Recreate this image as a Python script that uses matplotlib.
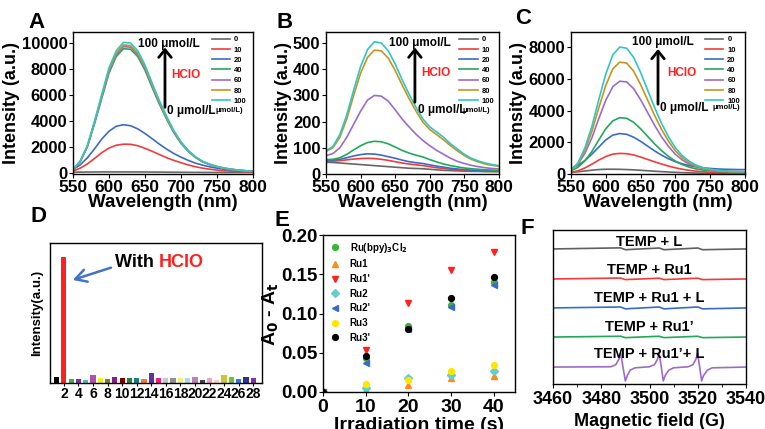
import matplotlib
matplotlib.use("Agg")
import matplotlib.pyplot as plt
import matplotlib.transforms as mtransforms

plt.rcParams['font.family'] = ['Liberation Sans', 'DejaVu Sans']
plt.rcParams['font.weight'] = 'bold'
plt.rcParams['axes.labelweight'] = 'bold'
plt.rcParams['mathtext.default'] = 'bf'
plt.rcParams['axes.linewidth'] = 1.0
plt.rcParams['xtick.direction'] = 'out'
plt.rcParams['ytick.direction'] = 'out'

# ---------------- data ----------------
wavelength = list(range(550, 801, 10))
conc_labels = ['0', '10', '20', '40', '60', '80', '100']
conc_colors = ['#666666', '#f23c3c', '#3a6cc5', '#22a85a', '#9c6cc8', '#c8941e', '#2fc6c6']

A_0 = [40, 45, 50, 55, 60, 60, 60, 60, 58, 55, 52, 48, 45, 40, 36, 32, 28, 25, 22, 20, 18, 16, 15, 14, 13, 12]
A_10 = [130, 350, 680, 1100, 1550, 1900, 2120, 2200, 2190, 2080, 1880, 1650, 1400, 1160, 950, 770, 600, 460, 350, 270, 200, 150, 120, 90, 70, 60]
A_20 = [250, 600, 1150, 1850, 2600, 3200, 3580, 3700, 3620, 3380, 3020, 2620, 2200, 1820, 1480, 1200, 950, 740, 580, 450, 350, 270, 210, 160, 130, 100]
A_40 = [230, 850, 2000, 3800, 5750, 7680, 8950, 9560, 9520, 8950, 7900, 6560, 5280, 4130, 3090, 2260, 1640, 1170, 840, 620, 460, 340, 250, 190, 140, 110]
A_60 = [235, 865, 2030, 3870, 5850, 7800, 9100, 9720, 9680, 9100, 8030, 6670, 5370, 4200, 3140, 2300, 1670, 1190, 850, 630, 465, 345, 255, 195, 145, 115]
A_80 = [240, 880, 2060, 3930, 5940, 7930, 9220, 9860, 9800, 9220, 8140, 6760, 5440, 4260, 3180, 2330, 1690, 1200, 860, 640, 470, 350, 260, 200, 150, 120]
A_100 = [250, 900, 2100, 4000, 6050, 8080, 9400, 10050, 10000, 9400, 8300, 6900, 5550, 4350, 3250, 2380, 1720, 1230, 880, 650, 480, 360, 270, 200, 150, 120]

B_0 = [45, 44, 42, 40, 38, 36, 34, 32, 30, 28, 26, 24, 22, 21, 20, 18, 16, 14, 13, 12, 11, 10, 10, 9, 9, 9]
B_10 = [48, 49, 51, 54, 57, 59, 60, 59, 56, 52, 47, 42, 38, 35, 32, 28, 24, 21, 18, 16, 14, 13, 12, 11, 10, 10]
B_20 = [52, 53, 56, 62, 69, 74, 77, 76, 72, 66, 60, 53, 47, 43, 40, 35, 30, 26, 22, 19, 17, 15, 14, 13, 12, 12]
B_40 = [55, 56, 62, 75, 92, 108, 120, 125, 123, 115, 103, 90, 80, 72, 65, 55, 46, 38, 32, 27, 23, 20, 18, 16, 15, 14]
B_60 = [70, 78, 100, 140, 190, 240, 282, 300, 297, 278, 245, 210, 180, 152, 128, 108, 90, 75, 60, 48, 40, 33, 28, 24, 21, 19]
B_80 = [86, 100, 140, 210, 300, 385, 445, 473, 470, 442, 395, 340, 288, 240, 198, 170, 150, 130, 108, 88, 70, 56, 46, 38, 33, 29]
B_100 = [88, 105, 150, 225, 320, 410, 475, 505, 500, 470, 420, 360, 305, 255, 210, 180, 160, 140, 115, 95, 75, 60, 50, 42, 36, 32]

C_0 = [100, 140, 190, 240, 280, 300, 300, 295, 280, 260, 235, 205, 175, 150, 125, 105, 88, 74, 62, 52, 45, 40, 35, 32, 30, 28]
C_10 = [100, 200, 380, 620, 880, 1100, 1250, 1300, 1280, 1200, 1070, 920, 770, 630, 500, 390, 300, 230, 180, 140, 110, 90, 80, 70, 60, 60]
C_20 = [350, 550, 850, 1250, 1700, 2150, 2450, 2550, 2500, 2320, 2060, 1760, 1460, 1190, 960, 780, 640, 530, 450, 390, 350, 320, 300, 290, 280, 280]
C_40 = [200, 420, 830, 1420, 2150, 2850, 3350, 3550, 3510, 3260, 2850, 2380, 1900, 1480, 1110, 810, 590, 430, 320, 250, 200, 170, 150, 140, 130, 120]
C_60 = [300, 620, 1300, 2280, 3500, 4650, 5500, 5850, 5800, 5380, 4680, 3880, 3080, 2350, 1740, 1240, 880, 620, 450, 340, 270, 220, 190, 170, 160, 150]
C_80 = [230, 640, 1480, 2680, 4180, 5580, 6620, 7050, 6990, 6480, 5640, 4670, 3700, 2820, 2070, 1460, 1020, 710, 500, 360, 270, 210, 175, 150, 140, 130]
C_100 = [250, 700, 1650, 3000, 4700, 6300, 7500, 8000, 7930, 7350, 6400, 5300, 4200, 3200, 2350, 1650, 1150, 800, 560, 400, 300, 230, 190, 165, 150, 140]

# Panel D
d_positions = list(range(1, 29))
d_heights = [4, 90, 3, 3, 2, 6, 3.5, 3, 4, 3.5, 3.5, 3.5, 3, 7, 3.5, 3.5, 3.5, 3.5, 3.5, 4.5, 2.5, 3.5, 2.5, 5.5, 4, 3, 4, 3.5]
d_colors = ['#000000', '#ff2020', '#3cb43c', '#7b2fa0', '#40c0c0', '#b050b0', '#f0f020', '#808020',
            '#802080', '#800000', '#208040', '#108080', '#f08020', '#6030a0', '#f02080', '#c8c8c8',
            '#909090', '#f0f080', '#a0e0e0', '#c080c0', '#404040', '#f0a0c0', '#ffd0b0', '#c8c830',
            '#70c040', '#2080e0', '#303090', '#8030a0']
d_ticks = list(range(2, 29, 2))

# Panel E
e_time = [0, 10, 20, 30, 40]
e_names = ['Ru(bpy)$_3$Cl$_2$', 'Ru1', "Ru1'", 'Ru2', "Ru2'", 'Ru3', "Ru3'"]
e_ruphen = [0, 0.043, 0.084, 0.111, 0.140]
e_ru1 = [0, 0.002, 0.0085, 0.018, 0.021]
e_ru1p = [0, 0.053, 0.114, 0.155, 0.178]
e_ru2 = [0, 0.0055, 0.018, 0.022, 0.027]
e_ru2p = [0, 0.037, 0.080, 0.108, 0.136]
e_ru3 = [0, 0.010, 0.015, 0.027, 0.034]
e_ru3p = [0, 0.046, 0.080, 0.120, 0.146]
e_markers = ['o', '^', 'v', 'D', '<', 'o', 'o']
e_colors = ['#3cb43c', '#ff8c1a', '#ff2020', '#66cccc', '#3a6cc5', '#ffe600', '#000000']

# Panel F
f_field_flat = [3460, 3488, 3490, 3504, 3506, 3520, 3522, 3540]
f_temp_l = [8.77, 8.84, 8.72, 8.83, 8.72, 8.83, 8.72, 8.77]
f_temp_ru1 = [6.82, 6.88, 6.78, 6.87, 6.78, 6.87, 6.78, 6.82]
f_temp_ru1_l = [4.94, 5.00, 4.88, 5.00, 4.88, 5.00, 4.88, 4.94]
f_temp_ru1p = [3.05, 3.10, 3.01, 3.10, 3.01, 3.10, 3.01, 3.05]
f_field_sig = [3460, 3484, 3486, 3487.3, 3488.1, 3489.0, 3490.0, 3490.8, 3492, 3494,
               3500, 3502, 3503.3, 3504.0, 3504.9, 3505.7, 3506.5, 3508, 3510,
               3516, 3518, 3519.2, 3519.9, 3520.8, 3521.6, 3522.4, 3524, 3526, 3540]
f_temp_ru1p_l = [1.10, 1.12, 1.25, 1.6, 2.0, 1.1, 0.2, 0.55, 0.9, 1.05,
                 1.12, 1.25, 1.6, 2.0, 1.1, 0.2, 0.55, 0.9, 1.05,
                 1.12, 1.25, 1.6, 2.0, 1.1, 0.2, 0.55, 0.9, 1.05, 1.10]
f_labels = ['TEMP + L', 'TEMP + Ru1', 'TEMP + Ru1 + L', 'TEMP + Ru1\u2019', 'TEMP + Ru1\u2019+ L']
f_label_y = [9.22, 7.40, 5.58, 3.70, 1.95]
f_colors = ['#606060', '#f23c3c', '#3a6cc5', '#22a85a', '#9c6cc8']

# ---------------- figure ----------------
W, H = 765, 429
fig = plt.figure(figsize=(W / 100, H / 100), dpi=100)


def add_ax(x0, y0, x1, y1):
    return fig.add_axes([x0 / W, 1 - y1 / H, (x1 - x0) / W, (y1 - y0) / H])


def spectra_panel(ax, series, ylim, yticks, arrow_x, arr_y0, arr_y1, top_txt, hclo_xy, zero_xy, small_x):
    for s, c, l in zip(series, conc_colors, conc_labels):
        ax.plot(wavelength, s, color=c, lw=1.2, label=l)
    ax.set_xlim(550, 800)
    ax.set_ylim(*ylim)
    ax.set_xticks([550, 600, 650, 700, 750, 800])
    ax.set_yticks(yticks)
    ax.tick_params(axis='x', labelsize=12.5, length=3, pad=1.5)
    ax.tick_params(axis='y', labelsize=12, length=3, pad=1)
    ax.set_xlabel('Wavelength (nm)', fontsize=13.5, labelpad=-1)
    ax.set_ylabel('Intensity (a.u.)', fontsize=13, labelpad=1)
    ax.legend(loc='upper left', bbox_to_anchor=(0.74, 1.01), frameon=False, fontsize=5.5,
              handlelength=2.4, handletextpad=0.5, labelspacing=0.38, borderpad=0.2)
    ax.annotate('', xy=(arrow_x, arr_y1), xytext=(arrow_x, arr_y0), xycoords='axes fraction',
                arrowprops=dict(arrowstyle='->,head_length=0.55,head_width=0.45', lw=2, color='k'))
    ax.text(top_txt[0], top_txt[1], '100 \u03bcmol/L', transform=ax.transAxes, ha='center', va='center', fontsize=8.5)
    ax.text(hclo_xy[0], hclo_xy[1], 'HCIO', transform=ax.transAxes, ha='left', va='center', fontsize=8.5, color='#ff2020')
    ax.text(zero_xy[0], zero_xy[1], '0 \u03bcmol/L', transform=ax.transAxes, ha='left', va='center', fontsize=8.5)
    ax.text(small_x, zero_xy[1], '\u03bcmol/L)', transform=ax.transAxes, ha='left', va='center', fontsize=5.5)


axA = add_ax(73, 32, 253, 174)
spectra_panel(axA, [A_0, A_10, A_20, A_40, A_60, A_80, A_100], (-100, 10850), [0, 2000, 4000, 6000, 8000, 10000],
              0.511, 0.45, 0.91, (0.533, 0.915), (0.545, 0.697), (0.522, 0.444), 0.79)
axB = add_ax(326, 32, 499, 174)
spectra_panel(axB, [B_0, B_10, B_20, B_40, B_60, B_80, B_100], (0, 542), [0, 100, 200, 300, 400, 500],
              0.514, 0.486, 0.91, (0.543, 0.923), (0.55, 0.711), (0.532, 0.45), 0.79)
axC = add_ax(571, 32, 745, 174)
spectra_panel(axC, [C_0, C_10, C_20, C_40, C_60, C_80, C_100], (0, 8950), [0, 2000, 4000, 6000, 8000],
              0.5, 0.472, 0.9, (0.529, 0.93), (0.552, 0.711), (0.511, 0.465), 0.816)

# Panel D
axD = add_ax(50, 243, 262, 383)
axD.bar(d_positions, d_heights, width=0.72, color=d_colors)
axD.set_xlim(0.1, 29.2)
axD.set_ylim(0, 100)
axD.set_xticks(d_ticks)
axD.set_yticks([])
axD.tick_params(axis='x', labelsize=10, length=2, pad=1)
axD.set_ylabel('Intensity(a.u.)', fontsize=9.5, labelpad=5)
axD.annotate('', xy=(0.095, 0.73), xytext=(0.3, 0.83), xycoords='axes fraction',
             arrowprops=dict(arrowstyle='->,head_length=0.8,head_width=0.45', lw=1.8, color='#4472c4'))
tw = axD.text(0.305, 0.86, 'With ', transform=axD.transAxes, ha='left', va='center', fontsize=13)
fig.canvas.draw()
bb = tw.get_window_extent()
x_end = axD.transAxes.inverted().transform((bb.x1, bb.y0))[0]
axD.text(x_end, 0.86, 'HCIO', transform=axD.transAxes, ha='left', va='center', fontsize=13, color='#ff2020')

# Panel E
axE = add_ax(323, 235, 515, 392)
e_sizes = {'o': 4.2, '^': 4.8, 'v': 4.8, 'D': 3.6, '<': 4.8}
for ys, m, c, n in zip([e_ruphen, e_ru1, e_ru1p, e_ru2, e_ru2p, e_ru3, e_ru3p], e_markers, e_colors, e_names):
    axE.plot(e_time, ys, ls='none', marker=m, color=c, ms=e_sizes[m], label=n)
axE.set_xlim(0, 45)
axE.set_ylim(0, 0.2)
axE.set_xticks([0, 10, 20, 30, 40])
axE.set_yticks([0, 0.05, 0.10, 0.15, 0.20])
axE.set_yticklabels(['0.00', '0.05', '0.10', '0.15', '0.20'])
axE.tick_params(axis='x', labelsize=14, length=3, pad=2)
axE.tick_params(axis='y', labelsize=13.5, length=3, pad=1)
axE.set_xlabel('Irradiation time (s)', fontsize=14, labelpad=1)
axE.set_ylabel('A$_0$ - A$_t$', fontsize=14, labelpad=0)
axE.legend(loc='upper left', bbox_to_anchor=(0.0, 1.01), frameon=False, fontsize=7, handlelength=1.0,
           handletextpad=1.0, labelspacing=0.48, borderpad=0.25)

# Panel F
axF = add_ax(553, 230, 746, 384)
for ys, c in zip([f_temp_l, f_temp_ru1, f_temp_ru1_l, f_temp_ru1p], f_colors[:4]):
    axF.plot(f_field_flat, ys, color=c, lw=1.2)
axF.plot(f_field_sig, f_temp_ru1p_l, color=f_colors[4], lw=1.2)
axF.set_xlim(3460, 3540)
axF.set_ylim(0, 10)
axF.set_xticks([3460, 3480, 3500, 3520, 3540])
axF.set_xticks([3470, 3490, 3510, 3530], minor=True)
axF.set_yticks([])
axF.tick_params(labelsize=13, length=3, pad=2)
axF.tick_params(which='minor', length=2)
axF.set_xlabel('Magnetic field (G)', fontsize=13, labelpad=4)
blend = mtransforms.blended_transform_factory(axF.transAxes, axF.transData)
for lab, yv in zip(f_labels, f_label_y):
    axF.text(0.5, yv, lab, transform=blend, ha='center', va='center', fontsize=10.5)

# panel letters
for L, x, y in [('A', 28, 22), ('B', 277, 23), ('C', 515, 18), ('D', 30, 216), ('E', 275, 221), ('F', 520, 228)]:
    fig.text(x / W, 1 - y / H, L, fontsize=16, fontweight='bold', ha='left', va='center')

fig.savefig('out.png', dpi=100)
